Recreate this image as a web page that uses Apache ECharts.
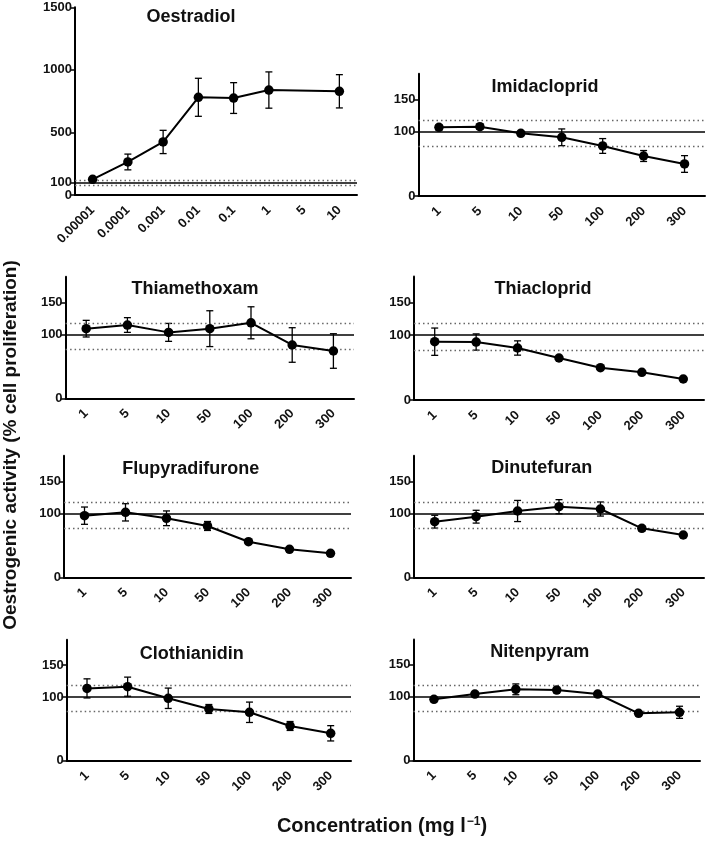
<!DOCTYPE html>
<html>
<head>
<meta charset="utf-8">
<script src="https://cdn.jsdelivr.net/npm/echarts@6/dist/echarts.min.js"></script>
<style>
html,body{margin:0;padding:0;background:#fff;}
#chart{width:709px;height:842px;}
</style>
</head>
<body>
<div id="chart"></div>
<script>
// ---------- data ----------
const titles = ['Oestradiol','Imidacloprid','Thiamethoxam','Thiacloprid','Flupyradifurone','Dinutefuran','Clothianidin','Nitenpyram'];
const oeCats = ['0.00001','0.0001','0.001','0.01','0.1','1','5','10'];
const pestCats = ['1','5','10','50','100','200','300'];
const oeMean = [125, 264, 424, 781, 775, 839, null, 829];
const oeErr  = [12, 63, 93, 152, 123, 145, null, 133];
const imiMean = [106.8, 107.8, 97.5, 91.3, 77.8, 62.2, 49.8];
const imiErr  = [4, 4, 2, 13, 11.5, 8.5, 13];
const thmMean = [108.8, 114.5, 103, 108.8, 118, 83.3, 73.9];
const thmErr  = [13, 11.5, 14, 28, 25, 27, 27];
const thcMean = [89.7, 89.2, 80, 64.6, 49.7, 42.6, 32.3];
const thcErr  = [21, 12.5, 11, 2, 2, 2, 2];
const fluMean = [96.3, 101.5, 92.2, 80.2, 55.6, 43.7, 37.5];
const fluErr  = [13.5, 13.5, 11.5, 7, 3, 2, 2];
const dinMean = [86.9, 94.7, 103.6, 110.3, 106.7, 76.5, 66.1];
const dinErr  = [10, 10, 16.5, 11, 11, 4, 2];
const cloMean = [113.5, 116.2, 98, 81.2, 76, 54.5, 43];
const cloErr  = [15, 15, 16, 7, 16, 7, 12];
const nitMean = [95.9, 104.2, 111.6, 110.5, 104.2, 73.9, 75.5];
const nitErr  = [3, 3, 8.5, 4, 3, 3, 9.5];
const controlLine = 100;
const bandUpper = 118;
const bandLower = 77;
const oeYTicks = [0, 500, 1000, 1500];
const oeYTicksExtra = [100];
const pestYTicks = [0, 100, 150];
const yTitle = 'Oestrogenic activity (% cell proliferation)';

// ---------- layout ----------
const panels = [
  {cats: oeCats,  mean: oeMean,  err: oeErr,  l:75,    r:357, y0:195,   ppu:0.1251, max:1500, yt: oeYTicks, yt2: oeYTicksExtra, tx:191, ty:17},
  {cats: pestCats, mean: imiMean, err: imiErr, l:418.5, r:705, y0:196,   ppu:0.643,  max:190,  yt: pestYTicks, tx:545,   ty:86.7},
  {cats: pestCats, mean: thmMean, err: thmErr, l:65.6,  r:354, y0:398.3, ppu:0.64,   max:190,  yt: pestYTicks, tx:195,   ty:289.3},
  {cats: pestCats, mean: thcMean, err: thcErr, l:414,   r:704, y0:400,   ppu:0.65,   max:190,  yt: pestYTicks, tx:543,   ty:289.3},
  {cats: pestCats, mean: fluMean, err: fluErr, l:64,    r:351, y0:577.3, ppu:0.64,   max:190,  yt: pestYTicks, tx:190.7, ty:469},
  {cats: pestCats, mean: dinMean, err: dinErr, l:414,   r:704, y0:577.3, ppu:0.64,   max:190,  yt: pestYTicks, tx:541.7, ty:468.3},
  {cats: pestCats, mean: cloMean, err: cloErr, l:66.7,  r:351, y0:760.7, ppu:0.637,  max:190,  yt: pestYTicks, tx:191.7, ty:654},
  {cats: pestCats, mean: nitMean, err: nitErr, l:413.5, r:700, y0:760.3, ppu:0.636,  max:190,  yt: pestYTicks, tx:539.7, ty:651.7}
];

const FONT = '"Liberation Sans", Arial, sans-serif';
const grid = [], xAxis = [], yAxis = [], series = [], graphic = [];

function errRender(params, api) {
  const x = api.value(0);
  const lo = api.coord([x, api.value(1)]);
  const hi = api.coord([x, api.value(2)]);
  const w = 3.5;
  const st = {stroke: '#000', lineWidth: 1.3};
  return {type: 'group', children: [
    {type: 'line', shape: {x1: lo[0], y1: lo[1], x2: hi[0], y2: hi[1]}, style: st},
    {type: 'line', shape: {x1: lo[0]-w, y1: lo[1], x2: lo[0]+w, y2: lo[1]}, style: st},
    {type: 'line', shape: {x1: hi[0]-w, y1: hi[1], x2: hi[0]+w, y2: hi[1]}, style: st}
  ]};
}

function makeY(i, max, ticks, showLine) {
  return {
    type: 'value', gridIndex: i, min: 0, max: max, position: 'left', offset: 0,
    axisLine: {show: showLine, lineStyle: {color: '#000', width: 2}},
    axisTick: {show: true, customValues: ticks, length: 5, lineStyle: {color: '#000', width: 1.5}},
    axisLabel: {customValues: ticks, formatter: v => String(v), color: '#111', fontWeight: 'bold', fontSize: 13, fontFamily: FONT, margin: 3,
      hideOverlap: false, showMinLabel: true, showMaxLabel: true},
    splitLine: {show: false}
  };
}

const yIdx = [];
panels.forEach((p, i) => {
  const top = p.y0 - p.max * p.ppu;
  grid.push({left: p.l, top: top, width: p.r - p.l, height: p.y0 - top, containLabel: false});
  xAxis.push({
    type: 'category', gridIndex: i, data: p.cats, boundaryGap: true,
    axisLine: {lineStyle: {color: '#000', width: 2}},
    axisTick: {alignWithLabel: true, length: 5, lineStyle: {color: '#000', width: 1.5}},
    axisLabel: {rotate: 45, color: '#111', fontWeight: 'bold', fontSize: 13, fontFamily: FONT, margin: 13, interval: 0, hideOverlap: false},
    splitLine: {show: false}
  });
  yIdx[i] = yAxis.length;
  yAxis.push(makeY(i, p.max, p.yt, true));
  if (p.yt2) yAxis.push(makeY(i, p.max, p.yt2, false));
  const yi = yIdx[i];
  series.push({
    type: 'line', xAxisIndex: i, yAxisIndex: yi, data: p.mean, connectNulls: true,
    symbol: 'circle', symbolSize: 9.5, z: 5,
    lineStyle: {color: '#000', width: 2}, itemStyle: {color: '#000'},
    animation: false,
    markLine: {
      silent: true, symbol: 'none', animation: false, label: {show: false},
      data: [
        {yAxis: controlLine, lineStyle: {color: '#000', width: 1.6, type: 'solid'}},
        {yAxis: bandUpper, lineStyle: {color: '#666', width: 1.3, type: [1.5, 3]}},
        {yAxis: bandLower, lineStyle: {color: '#666', width: 1.3, type: [1.5, 3]}}
      ]
    }
  });
  const eb = [];
  p.mean.forEach((m, k) => { if (m != null && p.err[k] != null) eb.push([k, m - p.err[k], m + p.err[k]]); });
  series.push({type: 'custom', xAxisIndex: i, yAxisIndex: yi, data: eb, renderItem: errRender, z: 4, animation: false, silent: true});
  graphic.push({type: 'text', x: p.tx, y: p.ty, style: {text: titles[i], fill: '#111', font: 'bold 18px ' + FONT, textAlign: 'center', textVerticalAlign: 'middle'}});
});

graphic.push({type: 'text', x: 11, y: 445, rotation: Math.PI / 2,
  style: {text: yTitle, fill: '#111', font: 'bold 19px ' + FONT, textAlign: 'center', textVerticalAlign: 'middle'}});
graphic.push({type: 'text', x: 382, y: 826,
  style: {text: 'Concentration (mg l{s|−1})', fill: '#111', font: 'bold 20px ' + FONT, textAlign: 'center', textVerticalAlign: 'middle',
    rich: {s: {fontSize: 12, fontWeight: 'bold', fontFamily: FONT, fill: '#111', verticalAlign: 'top', padding: [0, 0, 8, 1]}}}});

const chart = echarts.init(document.getElementById('chart'), null, {renderer: 'canvas'});
chart.setOption({animation: false, backgroundColor: '#fff', grid, xAxis, yAxis, series, graphic});
</script>
</body>
</html>
